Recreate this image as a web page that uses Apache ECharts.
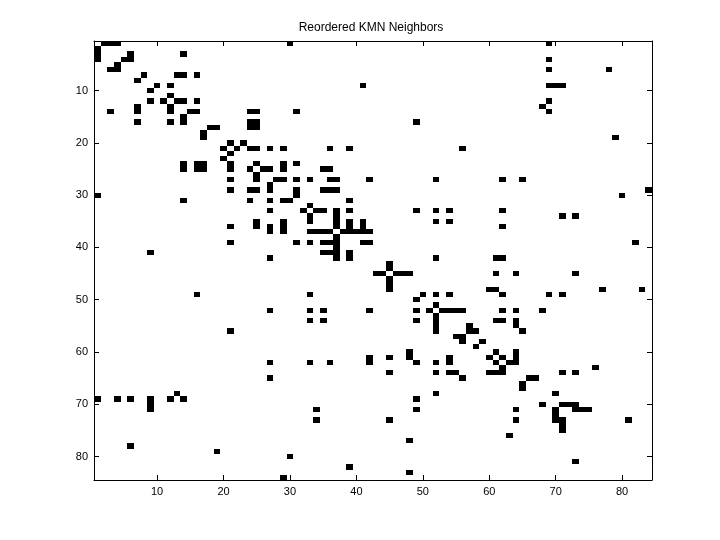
<!DOCTYPE html>
<html><head><meta charset="utf-8">
<script src="https://cdn.jsdelivr.net/npm/echarts@6/dist/echarts.min.js"></script>
<style>html,body{margin:0;padding:0;background:#fff}#c{width:720px;height:540px}</style>
</head><body><div id="c"></div>
<script>
const chartTitle = 'Reordered KMN Neighbors';
const matrixSize = 84;
const tickValues = [10, 20, 30, 40, 50, 60, 70, 80];
// neighborCols[r-1] = columns that are nonzero in row r
const neighborCols = [
 [2,3,4,30,69],
 [1],
 [1,6,14],
 [1,5,6,69],
 [4],
 [3,4,69,78],
 [8,13,14,16],
 [7],
 [10,12,41,69,70,71],
 [9],
 [12],
 [9,11,13,14,16,69],
 [7,12,68],
 [3,7,12,15,16,24,25,31,69],
 [14],
 [7,12,14,24,25,49],
 [18,19,24,25],
 [17],
 [17,79],
 [21,23],
 [20,22,24,25,27,29,36,39,56],
 [21],
 [20],
 [14,16,17,21,25,29,31],
 [14,16,17,21,24,26,27,29,35,36],
 [25],
 [21,25,28,29,31,33,36,37,42,52,62,65],
 [27],
 [21,24,25,27,31,35,36,37,84],
 [1,31,80],
 [14,24,27,29,30,39],
 [33],
 [27,32,34,35,37,39,49,52,54,62],
 [33,37,71,73],
 [25,29,33,37,39,41,52,54],
 [21,25,27,29,37,39,41,62],
 [27,29,33,34,35,36,38,39,40,41,42],
 [37],
 [21,31,33,35,36,37,41,42,82],
 [37],
 [9,35,36,37,39],
 [27,37,39,52,61,62],
 [45],
 [45],
 [43,44,46,47,48,61,64,73],
 [45],
 [45],
 [45,60,61,77,83],
 [16,33,50,52,54,62,69,71],
 [49],
 [52],
 [27,33,35,42,49,51,53,54,55,56,62,64,68],
 [52],
 [33,35,49,52,61,62,64],
 [52,57,64],
 [21,52,57,58,65],
 [55,56],
 [56,59],
 [58],
 [48,61,64],
 [42,45,48,54,60,62,64],
 [27,33,36,42,49,52,54,61,63,64],
 [62,76],
 [45,52,54,55,60,61,62,71,73],
 [27,56,66,67],
 [65],
 [65],
 [13,52,70],
 [1,4,6,9,12,14,49],
 [9,68,71,72,73],
 [9,34,49,64,70,73,74,75],
 [70],
 [34,45,64,70,71,81],
 [71],
 [71],
 [63],
 [48],
 [6],
 [19],
 [30],
 [73],
 [39],
 [48],
 [29]
];

const cells = [];
neighborCols.forEach(function (cols, i) {
  cols.forEach(function (c) { cells.push([c, i + 1]); });
});

const font = 'Liberation Sans, Arial, Helvetica, sans-serif';
function makeAxis(pos, showLabel, isY) {
  return {
    type: 'value', position: pos, min: 0.5, max: matrixSize + 0.5,
    inverse: !!isY,
    axisLine: { show: true, onZero: false, lineStyle: { color: '#000', width: 1 } },
    axisTick: { show: true, inside: true, length: 5, customValues: tickValues, lineStyle: { color: '#000' } },
    axisLabel: { show: showLabel, customValues: tickValues, color: '#000', fontFamily: font, fontSize: 11, margin: 6 },
    splitLine: { show: false }
  };
}

const chart = echarts.init(document.getElementById('c'), null, { renderer: 'canvas' });
chart.setOption({
  animation: false,
  backgroundColor: '#fff',
  graphic: [{
    type: 'text', x: 371, y: 28,
    style: { text: chartTitle, fill: '#000', font: '12px ' + font, textAlign: 'center', textVerticalAlign: 'middle' }
  }],
  grid: { left: 94, top: 41, right: 68, bottom: 60 },
  xAxis: [makeAxis('bottom', true, false), makeAxis('top', false, false)],
  yAxis: [makeAxis('left', true, true), makeAxis('right', false, true)],
  series: [{
    type: 'custom',
    xAxisIndex: 0, yAxisIndex: 0,
    data: cells,
    renderItem: function (params, api) {
      const a = api.coord([api.value(0) - 0.5, api.value(1) - 0.5]);
      const b = api.coord([api.value(0) + 0.5, api.value(1) + 0.5]);
      const x0 = Math.round(Math.min(a[0], b[0])), x1 = Math.round(Math.max(a[0], b[0]));
      const y0 = Math.round(Math.min(a[1], b[1])), y1 = Math.round(Math.max(a[1], b[1]));
      return {
        type: 'rect',
        shape: { x: x0, y: y0, width: x1 - x0, height: y1 - y0 },
        style: { fill: '#000', stroke: null }
      };
    }
  }]
});
</script>
</body></html>
